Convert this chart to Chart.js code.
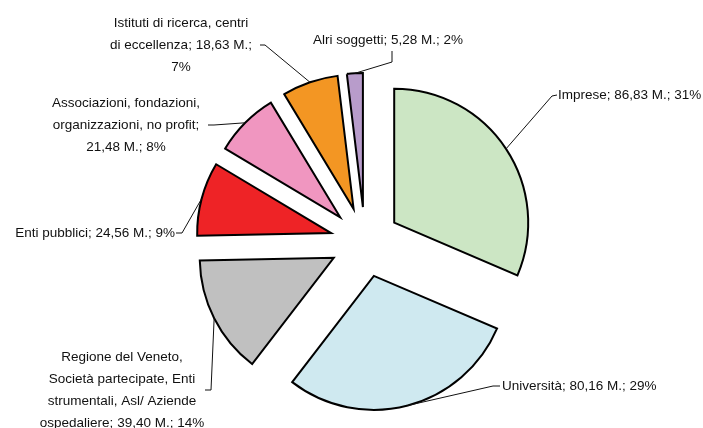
<!DOCTYPE html>
<html>
<head>
<meta charset="utf-8">
<script src="https://cdn.jsdelivr.net/npm/chart.js@4"></script>
<style>
  html, body { margin: 0; padding: 0; background: #fff; }
  #wrap { width: 703px; height: 428px; }
</style>
</head>
<body>
<div id="wrap"><canvas id="myChart"></canvas></div>
<script>
// Data (milioni di euro)
const categories = [
    'Imprese',
    'Università',
    'Regione del Veneto, Società partecipate, Enti strumentali, Asl/ Aziende ospedaliere',
    'Enti pubblici',
    'Associazioni, fondazioni, organizzazioni, no profit',
    'Istituti di ricerca, centri di eccellenza',
    'Alri soggetti'
];
const values = [86.83, 80.16, 39.40, 24.56, 21.48, 18.63, 5.28];
const unit = 'M.';
const colors = ['#CCE6C4', '#CFE9F0', '#C0C0C0', '#EE2326', '#F096C0', '#F39623', '#B89CCB'];

// Geometry of the exploded pie
const RADIUS = 134;   // slice radius in px
const EXPLODE = 35;   // how far each slice is pulled out

// Label placement: text anchor, wrap width, leader start + elbow
const labelLayout = [
    {x: 558, y: 95,  align: 'left',   wrap: 0,   start: [557, 95],  elbow: [552, 96]},
    {x: 502, y: 386, align: 'left',   wrap: 0,   start: [500, 386], elbow: [493, 386]},
    {x: 122, y: 357, align: 'center', wrap: 167, start: [205, 390], elbow: [211, 390]},
    {x: 175, y: 233, align: 'right',  wrap: 0,   start: [176, 233], elbow: [182, 233]},
    {x: 126, y: 103, align: 'center', wrap: 165, start: [208, 125], elbow: [214, 125]},
    {x: 181, y: 23,  align: 'center', wrap: 145, start: [260, 45],  elbow: [265, 45]},
    {x: 313, y: 40,  align: 'left',   wrap: 0,   start: [392, 51],  elbow: [392, 62]}
];
const LINE_H = 22;

const total = values.reduce((a, b) => a + b, 0);
const fmt = v => v.toFixed(2).replace('.', ',');
const labelText = i => `${categories[i]}; ${fmt(values[i])} ${unit}; ${Math.round(values[i] / total * 100)}%`;

function wrapText(ctx, text, width) {
    if (!width) return [text];
    const words = text.split(' ');
    const lines = [];
    let line = '';
    words.forEach(w => {
        const test = line ? line + ' ' + w : w;
        if (line && ctx.measureText(test).width > width) {
            lines.push(line);
            line = w;
        } else {
            line = test;
        }
    });
    if (line) lines.push(line);
    return lines;
}

// Chart.js grows exploded slices and trims their angle; undo both so
// every slice keeps the same radius and its true share of the circle
const keepShape = {
    id: 'keepShape',
    afterDatasetsUpdate(chart) {
        chart.getDatasetMeta(0).data.forEach(arc => {
            const c = arc.circumference;
            const fix = 1 - Math.sin(Math.min(Math.PI, c));
            const ro = EXPLODE * fix;
            arc.outerRadius = RADIUS - ro;
            const extra = ro / Math.PI / RADIUS;
            arc.startAngle -= extra / 2;
            arc.endAngle += extra / 2;
        });
    }
};

// Data labels with leader lines
const pieLabels = {
    id: 'pieLabels',
    afterDraw(chart) {
        const ctx = chart.ctx;
        const arcs = chart.getDatasetMeta(0).data;
        ctx.save();
        ctx.font = '13.5px "Liberation Sans", Arial, sans-serif';
        ctx.fillStyle = '#111111';
        ctx.strokeStyle = '#111111';
        ctx.lineWidth = 1;
        ctx.textBaseline = 'middle';
        arcs.forEach((arc, i) => {
            const L = labelLayout[i];
            const mid = (arc.startAngle + arc.endAngle) / 2;
            const r = EXPLODE + RADIUS;
            const ex = arc.x + Math.cos(mid) * r;
            const ey = arc.y + Math.sin(mid) * r;
            ctx.beginPath();
            ctx.moveTo(L.start[0], L.start[1]);
            ctx.lineTo(L.elbow[0], L.elbow[1]);
            ctx.lineTo(ex, ey);
            ctx.stroke();

            ctx.textAlign = L.align;
            wrapText(ctx, labelText(i), L.wrap).forEach((line, k) => {
                ctx.fillText(line, L.x, L.y + k * LINE_H);
            });
        });
        ctx.restore();
    }
};

const ctx = document.getElementById('myChart').getContext('2d');

const myChart = new Chart(ctx, {
    type: 'pie',
    data: {
        labels: categories,
        datasets: [{
            data: values,
            backgroundColor: colors,
            borderColor: '#000000',
            borderWidth: 2,
            borderJoinStyle: 'miter',
            offset: EXPLODE * 4  // v4 arcs translate by offset / 4
        }]
    },
    options: {
        responsive: true,
        maintainAspectRatio: false,
        animation: false,
        events: [],
        radius: RADIUS,
        layout: {padding: {left: 27, right: 0, top: 56, bottom: 0}},
        plugins: {
            legend: {display: false},
            tooltip: {enabled: false}
        }
    },
    plugins: [keepShape, pieLabels]
});
</script>
</body>
</html>
